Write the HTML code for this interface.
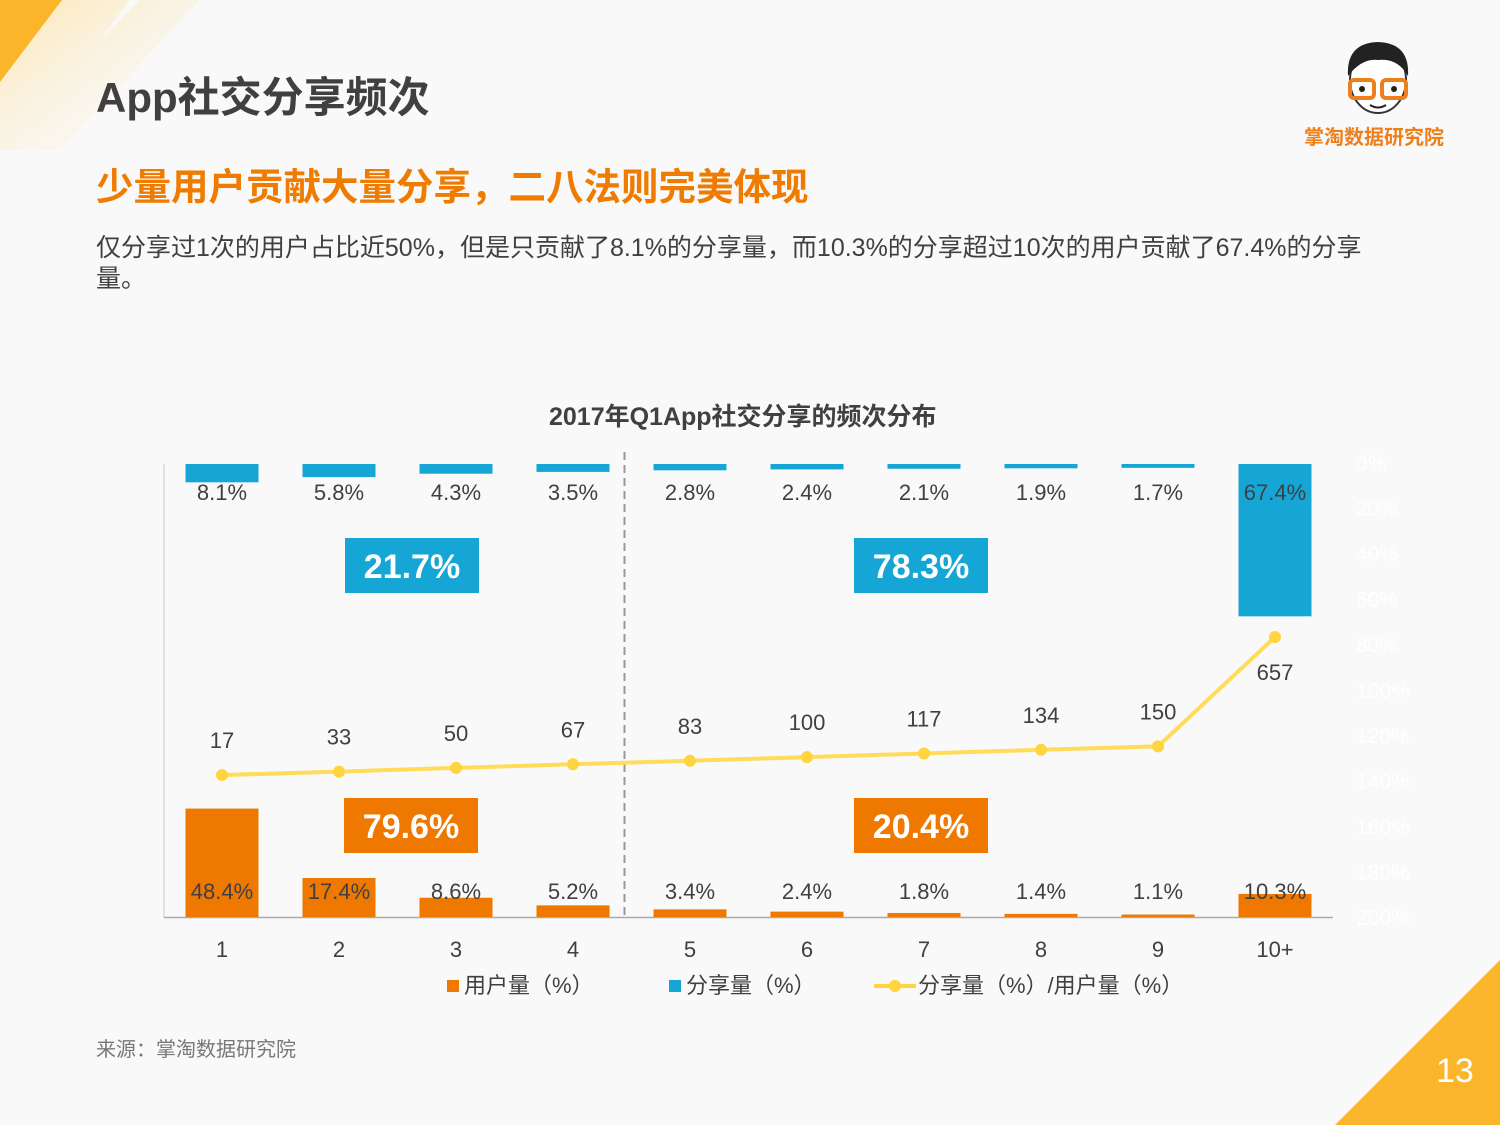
<!DOCTYPE html>
<html><head><meta charset="utf-8">
<style>
body{margin:0;width:1500px;height:1125px;overflow:hidden;background:#f9f9f9;font-family:"Liberation Sans","Noto Sans CJK SC",sans-serif;position:relative}
.t{position:absolute;white-space:nowrap}
</style></head><body>
<svg width="1500" height="1125" style="position:absolute;left:0;top:0">
<defs><linearGradient id="g1" x1="0" y1="0" x2="1" y2="1"><stop offset="0" stop-color="#fde6b0"/><stop offset="1" stop-color="#f9f9f9" stop-opacity="0"/></linearGradient></defs>
<polygon points="0,0 130,0 100,40 140,0 200,0 60,150 0,150" fill="url(#g1)"/>
<polygon points="0,0 62,0 0,82" fill="#fbb52b"/>
<polygon points="1500,960 1500,1125 1335,1125" fill="#fbb52b"/>
</svg>
<div class="t" style="left:96px;top:64px;font-size:42px;font-weight:bold;color:#404040">App社交分享频次</div>
<div class="t" style="left:96px;top:156px;font-size:37.5px;font-weight:bold;color:#ef7b00">少量用户贡献大量分享，二八法则完美体现</div>
<div class="t" style="left:96px;top:233px;font-size:25px;line-height:31px;color:#404040;white-space:normal;width:1280px">仅分享过1次的用户占比近50%，但是只贡献了8.1%的分享量，而10.3%的分享超过10次的用户贡献了67.4%的分享量。</div>
<svg width="80" height="80" style="position:absolute;left:1338px;top:38px">
<ellipse cx="40" cy="42" rx="28" ry="33" fill="#fff" stroke="#333" stroke-width="2"/>
<path d="M10,38 Q8,5 40,4 Q72,5 70,38 Q60,20 40,22 Q24,20 10,38Z" fill="#222"/>
<rect x="12" y="42" width="24" height="18" rx="4" fill="none" stroke="#ee7f1b" stroke-width="4"/>
<rect x="44" y="42" width="24" height="18" rx="4" fill="none" stroke="#ee7f1b" stroke-width="4"/>
<circle cx="24" cy="51" r="3" fill="#222"/><circle cx="56" cy="51" r="3" fill="#222"/>
<path d="M32,67 Q40,72 48,67" fill="none" stroke="#222" stroke-width="2"/>
</svg>
<div class="t" style="left:1304px;top:121px;font-size:20px;font-weight:bold;color:#ee7f1b">掌淘数据研究院</div>
<div class="t" style="left:549px;top:397px;font-size:25px;font-weight:bold;color:#404040">2017年Q1App社交分享的频次分布</div>
<svg id="chart" width="1500" height="1125" style="position:absolute;left:0;top:0"></svg>
<div class="t" style="left:96px;top:1033px;font-size:20px;color:#777">来源：掌淘数据研究院</div>
<div class="t" style="left:1436px;top:1052px;font-size:34px;color:#fff">13</div>
<script>
const categories=["1","2","3","4","5","6","7","8","9","10+"];
const userPct=[48.4,17.4,8.6,5.2,3.4,2.4,1.8,1.4,1.1,10.3];
const sharePct=[8.1,5.8,4.3,3.5,2.8,2.4,2.1,1.9,1.7,67.4];
const ratio=[17,33,50,67,83,100,117,134,150,657];
const rightTicks=["0%","20%","40%","60%","80%","100%","120%","140%","160%","180%","200%"];
const groupLabels=["21.7%","78.3%"];
const groupUser=["79.6%","20.4%"];
const svg=document.getElementById('chart');const NS='http://www.w3.org/2000/svg';
function mk(t,a,txt){const e=document.createElementNS(NS,t);for(const k in a)e.setAttribute(k,a[k]);if(txt!==undefined)e.textContent=txt;svg.appendChild(e);return e;}
const x=i=>222+i*117;
const yTop=v=>464+v*2.26;
const yBot=v=>917-v*2.24;
const yLine=v=>778.7-v*0.2156;
const bw=73;
let e=mk('line',{x1:164,y1:464,x2:164,y2:918,stroke:'#ccc','stroke-width':1});

e=mk('line',{x1:164,y1:917.5,x2:1333,y2:917.5,stroke:'#aaa','stroke-width':1.5});

e=mk('line',{x1:624.5,y1:452,x2:624.5,y2:917,stroke:'#999','stroke-width':2,'stroke-dasharray':'8,5'});

rightTicks.forEach((t,i)=>{const el=mk('text',{x:1356,y:470+i*45.5,'font-size':21,fill:'#fff','font-family':'Liberation Sans,sans-serif'},t);
});
categories.forEach((c,i)=>{
 let b=mk('rect',{x:x(i)-bw/2,y:464,width:bw,height:yTop(sharePct[i])-464,fill:'#16a6d6'});
 
 let l=mk('text',{x:x(i),y:500,'font-size':22,fill:'#404040','text-anchor':'middle'},sharePct[i]+'%');
 
 b=mk('rect',{x:x(i)-bw/2,y:yBot(userPct[i]),width:bw,height:917-yBot(userPct[i]),fill:'#ee7800'});
 
 l=mk('text',{x:x(i),y:899,'font-size':22,fill:'#404040','text-anchor':'middle'},userPct[i]+'%');
 
 l=mk('text',{x:x(i),y:957,'font-size':22,fill:'#404040','text-anchor':'middle'},c);
 
});
let pts=ratio.map((v,i)=>x(i)+','+yLine(v)).join(' ');
e=mk('polyline',{points:pts,fill:'none',stroke:'#ffdc5a','stroke-width':4});

ratio.forEach((v,i)=>{
 const p=mk('circle',{cx:x(i),cy:yLine(v),r:6,fill:'#ffd43e'});
 
 const last=i===ratio.length-1;
 const l=mk('text',{x:x(i),y:last?yLine(v)+43:yLine(v)-27,'font-size':22,fill:'#404040','text-anchor':'middle'},v);
 
});
[[345,'#16a6d6',538,groupLabels[0]],[854,'#16a6d6',538,groupLabels[1]],[344,'#ee7800',798,groupUser[0]],[854,'#ee7800',798,groupUser[1]]].forEach(g=>{
 const r=mk('rect',{x:g[0],y:g[2],width:134,height:55,fill:g[1]});
 
 const t=mk('text',{x:g[0]+67,y:g[2]+40,'font-size':34,'font-weight':'bold',fill:'#fff','text-anchor':'middle'},g[3]);
 
});
const leg=[[447,'rect','#ee7800','用户量（%）'],[669,'rect','#16a6d6','分享量（%）'],[874,'line','#ffd43e','分享量（%）/用户量（%）']];
leg.forEach(g=>{
 if(g[1]==='rect'){const r=mk('rect',{x:g[0],y:980,width:12,height:12,fill:g[2]});}
 else{const l=mk('line',{x1:g[0],y1:986,x2:g[0]+42,y2:986,stroke:g[2],'stroke-width':4});
 const c=mk('circle',{cx:g[0]+21,cy:986,r:6,fill:g[2]});}
 const t=mk('text',{x:g[1]==='rect'?g[0]+17:g[0]+44,y:993,'font-size':22,fill:'#404040'},g[3]);
 
});
</script>
</body></html>
